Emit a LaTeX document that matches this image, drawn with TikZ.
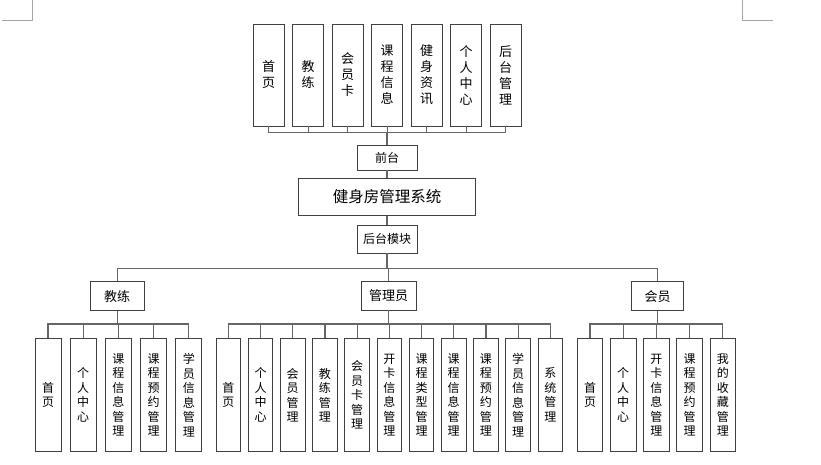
\documentclass[tikz,border=0pt]{standalone}
\usepackage{fontspec}
\newfontfamily\cjk{Noto Sans CJK SC}
\begin{document}
\begin{tikzpicture}[x=1pt,y=-1pt,
  box/.style={draw=black!75, line width=0.9pt, inner sep=0pt, align=center, fill=white},
  topbox/.style={box, minimum width=31pt, minimum height=102pt, font=\cjk\fontsize{13}{16}\selectfont},
  subbox/.style={box, minimum height=113pt, font=\cjk\fontsize{12}{14.5}\selectfont},
  smallbox/.style={box, minimum width=60pt, font=\cjk\fontsize{12}{14}\selectfont},
  rolebox/.style={box, minimum height=29pt, font=\cjk\fontsize{13}{15}\selectfont},
  conn/.style={draw=black!60, line width=1.2pt},
  cornermark/.style={draw=black!35, line width=0.8pt}
]
\useasboundingbox (0,0) rectangle (821,464);
% page corner marks
\coordinate (m1a) at (2,20.3);
\coordinate (m1b) at (32.7,20.3);
\coordinate (m1c) at (32.7,0);
\draw[cornermark] (m1a) -- (m1b) -- (m1c);
\coordinate (m2a) at (772.7,20.3);
\coordinate (m2b) at (742.3,20.3);
\coordinate (m2c) at (742.3,0);
\draw[cornermark] (m2a) -- (m2b) -- (m2c);

% top row
\foreach \i/\t in {0/{首\\页},1/{教\\练},2/{会\\员\\卡},3/{课\\程\\信\\息},4/{健\\身\\资\\讯},5/{个\\人\\中\\心},6/{后\\台\\管\\理}}{
  \node[topbox] (t\i) at (268.7+39.5*\i,75) {\t};
}
\coordinate (tbus) at (0,132.7);
\node[smallbox, minimum height=25pt] (qt) at (387,157.5) {前台};
\node[box, minimum width=177pt, minimum height=37.5pt, font=\cjk\fontsize{15.5}{18}\selectfont] (sys) at (387,197) {健身房管理系统};
\node[smallbox, minimum height=28pt] (ht) at (387,239) {后台模块};

\draw[conn] (t0.south) -- (t0.south |- tbus) -- (t6.south |- tbus) -- (t6.south);
\foreach \i in {1,...,5}{\draw[conn] (t\i.south) -- (t\i.south |- tbus);}
\draw[conn] (qt.north) -- (qt.north |- tbus);
\draw[conn] (qt.south) -- (sys.north);
\draw[conn] (sys.south) -- (ht.north);

% role level
\coordinate (mbus) at (0,268.3);
\node[rolebox, minimum width=54pt] (coach) at (117.2,296.2) {教练};
\node[rolebox, minimum width=55pt] (admin) at (388.5,295.5) {管理员};
\node[rolebox, minimum width=51.6pt] (member) at (657.5,296.2) {会员};
\draw[conn] (ht.south) -- (ht.south |- mbus);
\draw[conn] (coach.north) -- (coach.north |- mbus) -- (member.north |- mbus) -- (member.north);
\draw[conn] (admin.north) -- (admin.north |- mbus);

\coordinate (sbus) at (0,324);
% coach subs
\foreach \i/\t in {0/{首\\页},1/{个\\人\\中\\心},2/{课\\程\\信\\息\\管\\理},3/{课\\程\\预\\约\\管\\理},4/{学\\员\\信\\息\\管\\理}}{
  \node[subbox, minimum width=26pt] (c\i) at (48+35.2*\i,395) {\t};
}
\draw[conn] (coach.south) -- (coach.south |- sbus);
\draw[conn] (c0.north) -- (c0.north |- sbus) -- (c4.north |- sbus) -- (c4.north);
\foreach \i in {1,2,3}{\draw[conn] (c\i.north) -- (c\i.north |- sbus);}

% admin subs
\foreach \i/\t in {0/{首\\页},1/{个\\人\\中\\心},2/{会\\员\\管\\理},3/{教\\练\\管\\理},4/{会\\员\\卡\\管\\理},5/{开\\卡\\信\\息\\管\\理},6/{课\\程\\类\\型\\管\\理},7/{课\\程\\信\\息\\管\\理},8/{课\\程\\预\\约\\管\\理},9/{学\\员\\信\\息\\管\\理},10/{系\\统\\管\\理}}{
  \node[subbox, minimum width=24.7pt] (a\i) at (228.3+32.2*\i,395) {\t};
}
\draw[conn] (admin.south) -- (admin.south |- sbus);
\draw[conn] (a0.north) -- (a0.north |- sbus) -- (a10.north |- sbus) -- (a10.north);
\foreach \i in {1,...,9}{\draw[conn] (a\i.north) -- (a\i.north |- sbus);}

% member subs
\foreach \i/\t in {0/{首\\页},1/{个\\人\\中\\心},2/{开\\卡\\信\\息\\管\\理},3/{课\\程\\预\\约\\管\\理},4/{我\\的\\收\\藏\\管\\理}}{
  \node[subbox, minimum width=25.5pt] (u\i) at (590+33.2*\i,395) {\t};
}
\draw[conn] (member.south) -- (member.south |- sbus);
\draw[conn] (u0.north) -- (u0.north |- sbus) -- (u4.north |- sbus) -- (u4.north);
\foreach \i in {1,2,3}{\draw[conn] (u\i.north) -- (u\i.north |- sbus);}
\end{tikzpicture}
\end{document}
